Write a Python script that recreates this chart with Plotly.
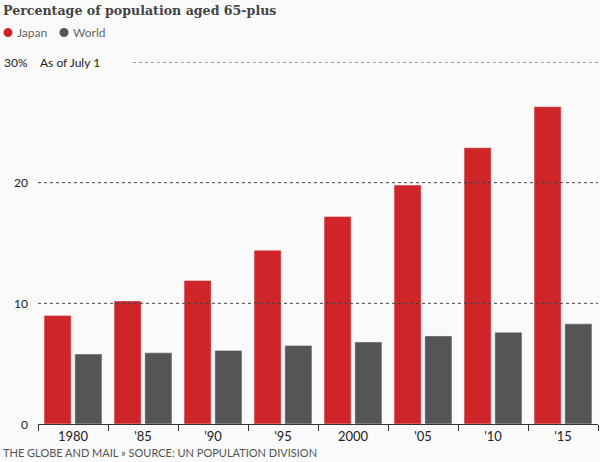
import plotly.graph_objects as go

years = ["1980", "'85", "'90", "'95", "2000", "'05", "'10", "'15"]
japan = [9.0, 10.2, 11.9, 14.4, 17.2, 19.8, 22.9, 26.3]
world = [5.8, 5.9, 6.1, 6.5, 6.8, 7.3, 7.6, 8.3]
y_ticks = [0, 10, 20, 30]
y_tick_labels = ["0", "10", "20", "30%"]

RED = "#cf2528"
GREY = "#555557"
SANS = "Lato, 'Open Sans', sans-serif"

fig = go.Figure()
fig.add_trace(go.Bar(x=years, y=japan, name="Japan", marker_color=RED, showlegend=False))
fig.add_trace(go.Bar(x=years, y=world, name="World", marker_color=GREY, showlegend=False))

L, R, T, B = 38, 2, 62, 38
W, H = 600, 462
pw = W - L - R
ph = H - T - B


def px_x(x):
    return (x - L) / pw


def px_y(y):
    return (H - B - y) / ph


shapes = []
annotations = []
for v, lab in zip(y_ticks, y_tick_labels):
    if v > 0:
        x0 = px_x(133) if v == 30 else 0
        shapes.append(dict(type="line", xref="paper", yref="y", x0=x0, x1=1, y0=v, y1=v,
                           line=dict(color="#444", width=1, dash="dot")))
    annotations.append(dict(xref="paper", yref="y", x=px_x(30), y=v, text=lab,
                            showarrow=False, xanchor="right", yanchor="middle",
                            font=dict(family=SANS, size=12, color="#222")))
annotations.append(dict(xref="paper", yref="y", x=0, y=30, text="As of July 1",
                        showarrow=False, xanchor="left", yanchor="middle",
                        font=dict(family=SANS, size=12, color="#222")))

# title
annotations.append(dict(xref="paper", yref="paper", x=px_x(1), y=px_y(1),
                        text="<b>Percentage of population aged 65-plus</b>", showarrow=False,
                        xanchor="left", yanchor="top",
                        font=dict(family="'DejaVu Serif', serif", size=12.6, color="#444")))
# legend
for cx, tx, col, name in [(8, 15, RED, "Japan"), (64, 71, GREY, "World")]:
    shapes.append(dict(type="circle", xref="paper", yref="paper", xsizemode="pixel",
                       ysizemode="pixel", xanchor=px_x(cx), yanchor=px_y(32.5),
                       x0=-4.5, x1=4.5, y0=-4.5, y1=4.5, fillcolor=col, line=dict(width=0)))
    annotations.append(dict(xref="paper", yref="paper", x=px_x(tx), y=px_y(32.5), text=name,
                            showarrow=False, xanchor="left", yanchor="middle",
                            font=dict(family=SANS, size=12, color="#666")))
# source
annotations.append(dict(xref="paper", yref="paper", x=px_x(1), y=px_y(452),
                        text="THE GLOBE AND MAIL » SOURCE: UN POPULATION DIVISION",
                        showarrow=False, xanchor="left", yanchor="middle",
                        font=dict(family=SANS, size=11, color="#555")))

fig.update_layout(
    width=W, height=H,
    margin=dict(l=L, r=R, t=T, b=B),
    paper_bgcolor="#fafafa", plot_bgcolor="#fafafa",
    barmode="group", bargap=0.12, bargroupgap=0.12,
    shapes=shapes, annotations=annotations,
    xaxis=dict(showgrid=False, showline=True, linecolor="#333", linewidth=1,
               ticks="outside", tickson="boundaries", ticklen=6, tickcolor="#333",
               tickfont=dict(family=SANS, size=13, color="#222")),
    yaxis=dict(range=[0, 30], showgrid=False, showticklabels=False, zeroline=False,
               tickvals=y_ticks),
)

fig.write_html("out.html", config={"displayModeBar": False},
               post_script="document.body.style.margin='0';")
